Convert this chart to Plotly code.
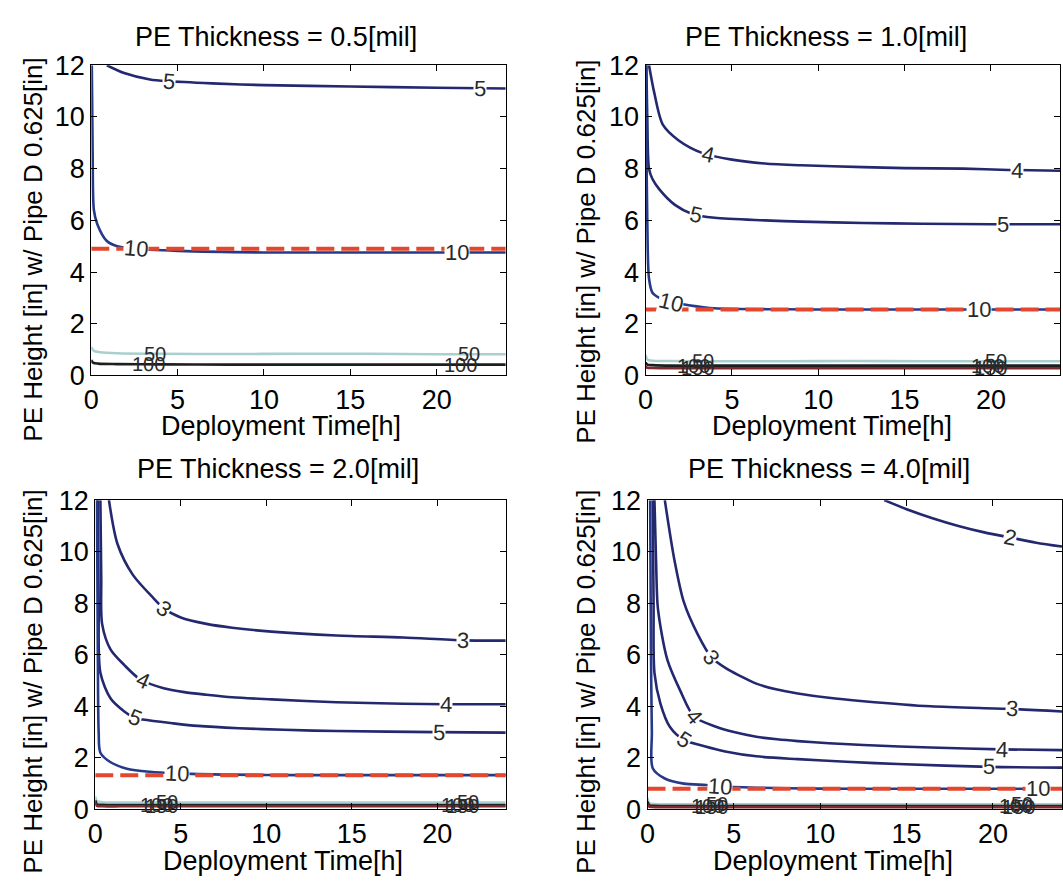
import numpy as np
import plotly.graph_objects as go

W, H = 1063, 894

# ---------------- data ----------------
titles = ["PE Thickness = 0.5[mil]", "PE Thickness = 1.0[mil]",
          "PE Thickness = 2.0[mil]", "PE Thickness = 4.0[mil]"]
x_label = "Deployment Time[h]"
y_label = "PE Height [in] w/ Pipe D 0.625[in]"
x_ticks = [0, 5, 10, 15, 20]
y_ticks = [0, 2, 4, 6, 8, 10, 12]

# Panel 1: 0.5 mil
p1_t5 = [0.9, 1.9, 3.4, 4.5, 7, 10, 15, 20, 24]
p1_h5 = [12, 11.7, 11.45, 11.38, 11.3, 11.23, 11.18, 11.13, 11.1]
p1_t10 = [0.03, 0.08, 0.15, 0.35, 0.9, 1.5, 2.5, 5, 10, 15, 20, 24]
p1_h10 = [12, 8.5, 6.4, 5.85, 5.2, 5.0, 4.9, 4.82, 4.76, 4.76, 4.76, 4.76]
p1_t50 = [0, 0.15, 0.5, 1.5, 4, 8, 12, 16, 20, 24]
p1_h50 = [1.1, 0.95, 0.9, 0.86, 0.84, 0.83, 0.84, 0.84, 0.82, 0.82]
p1_t100 = [0, 0.1, 0.4, 1.5, 4, 8, 12, 16, 20, 24]
p1_h100 = [0.6, 0.5, 0.46, 0.44, 0.43, 0.42, 0.42, 0.42, 0.42, 0.42]
p1_red = 4.9

# Panel 2: 1.0 mil
p2_t4 = [0.2, 0.5, 1.0, 1.9, 3.3, 5, 6.9, 9, 12.6, 15, 18.4, 21, 24]
p2_h4 = [12, 10.95, 9.7, 9.1, 8.6, 8.35, 8.2, 8.13, 8.06, 8.02, 8.0, 7.95, 7.92]
p2_t5 = [0.05, 0.1, 0.2, 0.4, 0.8, 1.7, 2.7, 4, 6.9, 9, 12.6, 16, 20, 24]
p2_h5 = [12, 10, 8.0, 7.6, 7.2, 6.6, 6.25, 6.1, 6.0, 5.95, 5.9, 5.87, 5.85, 5.85]
p2_t10 = [0.02, 0.05, 0.1, 0.2, 0.4, 0.8, 1.4, 2.5, 4, 8, 12, 16, 20, 24]
p2_h10 = [12, 9, 6, 3.75, 3.2, 3.0, 2.85, 2.72, 2.6, 2.56, 2.55, 2.55, 2.55, 2.55]
p2_t50 = [0, 0.1, 0.4, 1.5, 4, 8, 12, 16, 20, 24]
p2_h50 = [0.8, 0.62, 0.57, 0.56, 0.55, 0.55, 0.56, 0.55, 0.55, 0.55]
p2_t100 = [0, 0.1, 0.4, 1.5, 4, 8, 12, 16, 20, 24]
p2_h100 = [0.5, 0.42, 0.4, 0.38, 0.38, 0.38, 0.38, 0.38, 0.38, 0.38]
p2_t150 = [0, 0.1, 0.4, 1.5, 4, 8, 12, 16, 20, 24]
p2_h150 = [0.35, 0.3, 0.29, 0.28, 0.28, 0.28, 0.28, 0.28, 0.28, 0.28]
p2_red = 2.55

# Panel 3: 2.0 mil
p3_t3 = [0.8, 1.3, 2.2, 3.4, 4.0, 5.0, 6.5, 8.0, 10.3, 14.1, 18, 21.5, 24]
p3_h3 = [12, 10.3, 9.1, 8.2, 7.8, 7.45, 7.2, 7.05, 6.9, 6.75, 6.67, 6.56, 6.55]
p3_t4 = [0.3, 0.35, 0.4, 0.9, 1.7, 2.6, 4, 5.2, 6.5, 8, 10.3, 14.1, 18, 20.5, 24]
p3_h4 = [12, 9, 7.2, 6.2, 5.6, 5.06, 4.7, 4.55, 4.45, 4.35, 4.27, 4.16, 4.1, 4.08, 4.08]
p3_t5 = [0.15, 0.2, 0.3, 0.9, 1.7, 2.3, 3.2, 4.55, 6, 8.4, 11, 14.1, 19.9, 24]
p3_h5 = [12, 8, 5.3, 4.3, 3.8, 3.56, 3.45, 3.34, 3.24, 3.15, 3.09, 3.04, 3.0, 2.98]
p3_t10 = [0.1, 0.15, 0.2, 0.3, 0.9, 1.85, 3.2, 4.7, 8, 12, 16, 20, 24]
p3_h10 = [12, 6, 3, 2.2, 1.83, 1.58, 1.46, 1.4, 1.35, 1.33, 1.33, 1.33, 1.33]
p3_t50 = [0, 0.1, 0.4, 1.5, 4, 8, 12, 16, 20, 24]
p3_h50 = [0.5, 0.32, 0.28, 0.27, 0.27, 0.27, 0.27, 0.27, 0.27, 0.27]
p3_t100 = [0, 0.1, 0.4, 1.5, 4, 8, 12, 16, 20, 24]
p3_h100 = [0.35, 0.2, 0.18, 0.17, 0.17, 0.17, 0.17, 0.17, 0.17, 0.17]
p3_t150 = [0, 0.1, 0.4, 1.5, 4, 8, 12, 16, 20, 24]
p3_h150 = [0.25, 0.14, 0.12, 0.12, 0.12, 0.12, 0.12, 0.12, 0.12, 0.12]
p3_red = 1.33

# Panel 4: 4.0 mil
p4_t2 = [13.7, 15, 16.5, 18, 19.5, 21, 22.5, 24]
p4_h2 = [12, 11.65, 11.3, 11.0, 10.75, 10.55, 10.35, 10.2]
p4_t3 = [1.0, 1.55, 2.1, 2.9, 3.7, 4.6, 5.3, 6.3, 7.5, 8.7, 10.5, 12.5, 16.4, 21, 24]
p4_h3 = [12, 9.7, 8.05, 6.8, 5.9, 5.45, 5.2, 4.88, 4.65, 4.5, 4.33, 4.2, 4.0, 3.9, 3.8]
p4_t4 = [0.4, 0.5, 0.6, 1.15, 1.9, 2.7, 4.0, 5.0, 6.3, 7.5, 8.7, 10.5, 12.5, 16.4, 20.5, 24]
p4_h4 = [12, 9.5, 7.8, 5.8, 4.6, 3.6, 3.2, 3.0, 2.82, 2.72, 2.65, 2.57, 2.5, 2.4, 2.33, 2.3]
p4_t5 = [0.3, 0.35, 0.4, 0.75, 1.3, 2.1, 3.3, 4.5, 6.3, 8.7, 11.5, 14.5, 19.8, 24]
p4_h5 = [12, 8, 5.3, 4.1, 3.2, 2.7, 2.45, 2.25, 2.06, 1.95, 1.85, 1.76, 1.65, 1.62]
p4_t10 = [0.15, 0.2, 0.25, 0.3, 1.0, 2.1, 3.4, 4.2, 8, 12, 16, 20, 24]
p4_h10 = [12, 6, 3, 1.6, 1.2, 1.0, 0.95, 0.9, 0.82, 0.8, 0.8, 0.8, 0.8]
p4_t50 = [0, 0.1, 0.4, 1.5, 4, 8, 12, 16, 20, 24]
p4_h50 = [0.45, 0.24, 0.21, 0.2, 0.2, 0.2, 0.2, 0.2, 0.2, 0.2]
p4_t100 = [0, 0.1, 0.4, 1.5, 4, 8, 12, 16, 20, 24]
p4_h100 = [0.3, 0.16, 0.14, 0.13, 0.13, 0.13, 0.13, 0.13, 0.13, 0.13]
p4_t150 = [0, 0.1, 0.4, 1.5, 4, 8, 12, 16, 20, 24]
p4_h150 = [0.2, 0.11, 0.09, 0.09, 0.09, 0.09, 0.09, 0.09, 0.09, 0.09]
p4_red = 0.8

# contour label positions (deployment time of each inline label)
p1_labels = {"5": [4.5, 22.5], "10": [2.6, 21.2], "50": [3.7, 21.9], "100": [3.3, 21.4]}
p2_labels = {"4": [3.6, 21.5], "5": [2.9, 20.7], "10": [1.5, 19.3], "50": [3.3, 20.3],
             "100": [2.8, 19.8], "150": [3.0, 20.0]}
p3_labels = {"3": [4.0, 21.5], "4": [2.8, 20.5], "5": [2.3, 20.1], "10": [4.8],
             "50": [4.2, 21.8], "100": [3.6, 21.2], "150": [3.9, 21.5]}
p4_labels = {"2": [21.0], "3": [3.7, 21.1], "4": [2.7, 20.5], "5": [2.1, 19.8], "10": [4.2, 22.6],
             "50": [4.0, 21.7], "100": [3.5, 21.3], "150": [3.7, 21.5]}

# ---------------- assembly ----------------
panels = [
    dict(curves=[("5", p1_t5, p1_h5), ("10", p1_t10, p1_h10),
                 ("50", p1_t50, p1_h50), ("100", p1_t100, p1_h100)],
         labels=p1_labels, red=p1_red),
    dict(curves=[("4", p2_t4, p2_h4), ("5", p2_t5, p2_h5), ("10", p2_t10, p2_h10),
                 ("50", p2_t50, p2_h50), ("100", p2_t100, p2_h100), ("150", p2_t150, p2_h150)],
         labels=p2_labels, red=p2_red),
    dict(curves=[("3", p3_t3, p3_h3), ("4", p3_t4, p3_h4), ("5", p3_t5, p3_h5),
                 ("10", p3_t10, p3_h10), ("50", p3_t50, p3_h50), ("100", p3_t100, p3_h100),
                 ("150", p3_t150, p3_h150)],
         labels=p3_labels, red=p3_red),
    dict(curves=[("2", p4_t2, p4_h2), ("3", p4_t3, p4_h3), ("4", p4_t4, p4_h4),
                 ("5", p4_t5, p4_h5), ("10", p4_t10, p4_h10), ("50", p4_t50, p4_h50),
                 ("100", p4_t100, p4_h100), ("150", p4_t150, p4_h150)],
         labels=p4_labels, red=p4_red),
]

# pixel boxes of the four axes (left, right, top, bottom)
boxes = [(84, 502, 52, 373), (643, 1061, 52, 373), (88, 502, 502, 822), (645, 1063, 502, 822)]
title_pos = [(270, 23), (825, 23), (272, 470), (828, 470)]
xlab_pos = [(275, 425), (831, 425), (277, 875), (832, 875)]
ylab_pos = [(25, 243), (583, 245), (25, 690), (583, 690)]

NAVY = "#24296f"
line_colors = {"2": NAVY, "3": NAVY, "4": NAVY, "5": NAVY, "10": "#263a8a",
               "50": "#a9cfd0", "100": "#1e1e1e", "150": "#7d2a2e"}
FONT = "Liberation Sans, Arial, Helvetica, sans-serif"

fig = go.Figure()
annotations = []
X_MAX, Y_MAX = 24, 12

for i, (pan, box) in enumerate(zip(panels, boxes)):
    n = "" if i == 0 else str(i + 1)
    xa, ya = "x" + n, "y" + n
    l, r, t, b = box
    kx = (r - l) / X_MAX
    ky = (b - t) / Y_MAX
    curves = {}
    for lev, ts, hs in pan["curves"]:
        curves[lev] = (ts, hs)
        fig.add_trace(go.Scatter(x=ts, y=hs, mode="lines", xaxis=xa, yaxis=ya,
                                 line=dict(color=line_colors[lev], width=2.6,
                                           shape="spline", smoothing=0.8),
                                 showlegend=False, hoverinfo="skip"))
    fig.add_trace(go.Scatter(x=[0, X_MAX], y=[pan["red"], pan["red"]], mode="lines",
                             xaxis=xa, yaxis=ya,
                             line=dict(color="#e4472d", width=4, dash="18px,7px"),
                             showlegend=False, hoverinfo="skip"))
    for lev, tlist in pan["labels"].items():
        ts, hs = curves[lev]
        small = lev in ("50", "100", "150")
        for tl in tlist:
            hl = float(np.interp(tl, ts, hs))
            h1 = float(np.interp(tl - 0.25, ts, hs))
            h2 = float(np.interp(tl + 0.25, ts, hs))
            ang = np.degrees(np.arctan2(-(h2 - h1) * ky, 0.5 * kx))
            annotations.append(dict(x=tl, y=hl, xref=xa, yref=ya, text=lev, showarrow=False,
                                    textangle=float(ang),
                                    font=dict(family=FONT, size=20 if small else 22,
                                              color="#2a2a2a"),
                                    bgcolor=None if small else "white", borderpad=0))
    dom_x = [l / W, r / W]
    dom_y = [1 - b / H, 1 - t / H]
    axis_common = dict(showline=True, linecolor="black", linewidth=1, mirror="ticks",
                       ticks="inside", ticklen=6, tickcolor="black", showgrid=False,
                       zeroline=False, tickfont=dict(family=FONT, size=27, color="black"))
    fig.update_layout(**{
        "xaxis" + n: dict(domain=dom_x, range=[0, X_MAX], tickvals=x_ticks,
                          anchor=ya, **axis_common),
        "yaxis" + n: dict(domain=dom_y, range=[0, Y_MAX], tickvals=y_ticks,
                          anchor=xa, **axis_common),
    })
    tx, ty = title_pos[i]
    annotations.append(dict(x=tx / W, y=1 - ty / H, xref="paper", yref="paper",
                            text=titles[i], showarrow=False, xanchor="center", yanchor="middle",
                            font=dict(family=FONT, size=27, color="black")))
    lx, ly = xlab_pos[i]
    annotations.append(dict(x=lx / W, y=1 - ly / H, xref="paper", yref="paper",
                            text=x_label, showarrow=False, xanchor="center", yanchor="middle",
                            font=dict(family=FONT, size=27, color="black")))
    vx, vy = ylab_pos[i]
    annotations.append(dict(x=vx / W, y=1 - vy / H, xref="paper", yref="paper",
                            text=y_label, showarrow=False, textangle=-90,
                            xanchor="center", yanchor="middle",
                            font=dict(family=FONT, size=26, color="black")))

fig.update_layout(width=W, height=H, margin=dict(l=0, r=0, t=0, b=0),
                  paper_bgcolor="white", plot_bgcolor="white", annotations=annotations)
fig.write_html("out.html")
